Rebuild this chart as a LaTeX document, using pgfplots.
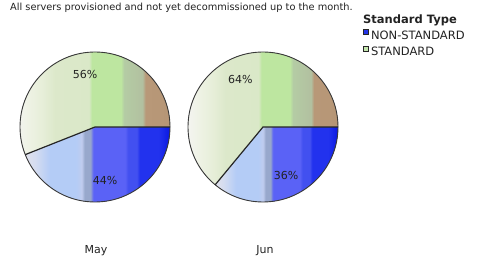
\documentclass[border=0pt]{standalone}
\usepackage{pgfplots}
\usepackage{pgfplotstable}
\pgfplotsset{compat=1.18}
\usepackage{fontspec}
\setmainfont{DejaVu Sans}
\definecolor{outl}{HTML}{3A3A3A}
\definecolor{nsblue}{HTML}{2434E8}
\definecolor{stgreen}{HTML}{C4E6AE}
\definecolor{txt}{HTML}{222222}
\pgfdeclarehorizontalshading{greenpie}{100bp}{%
 color(0bp)=(rgb,255:red,244;green,244;blue,240);
 color(25bp)=(rgb,255:red,244;green,244;blue,240);
 color(29bp)=(rgb,255:red,238;green,242;blue,228);
 color(33.5bp)=(rgb,255:red,230;green,238;blue,216);
 color(37.5bp)=(rgb,255:red,220;green,232;blue,202);
 color(48.5bp)=(rgb,255:red,218;green,232;blue,200);
 color(49.5bp)=(rgb,255:red,189;green,230;blue,160);
 color(59bp)=(rgb,255:red,189;green,230;blue,160);
 color(60bp)=(rgb,255:red,180;green,204;blue,164);
 color(66bp)=(rgb,255:red,178;green,192;blue,160);
 color(67bp)=(rgb,255:red,184;green,152;blue,120);
 color(75bp)=(rgb,255:red,182;green,150;blue,118);
 color(100bp)=(rgb,255:red,182;green,150;blue,118)}
\pgfdeclarehorizontalshading{bluepie}{100bp}{%
 color(0bp)=(rgb,255:red,226;green,226;blue,236);
 color(25bp)=(rgb,255:red,226;green,226;blue,236);
 color(28.5bp)=(rgb,255:red,212;green,220;blue,240);
 color(33.5bp)=(rgb,255:red,180;green,204;blue,246);
 color(42.5bp)=(rgb,255:red,180;green,204;blue,246);
 color(44.5bp)=(rgb,255:red,192;green,204;blue,238);
 color(45.5bp)=(rgb,255:red,152;green,168;blue,204);
 color(47.5bp)=(rgb,255:red,152;green,168;blue,204);
 color(48.5bp)=(rgb,255:red,90;green,98;blue,246);
 color(59.5bp)=(rgb,255:red,90;green,98;blue,246);
 color(60.5bp)=(rgb,255:red,66;green,80;blue,240);
 color(63.5bp)=(rgb,255:red,66;green,80;blue,240);
 color(64.5bp)=(rgb,255:red,34;green,50;blue,238);
 color(71bp)=(rgb,255:red,34;green,50;blue,238);
 color(75bp)=(rgb,255:red,10;green,24;blue,226);
 color(100bp)=(rgb,255:red,10;green,24;blue,226)}
\pgfplotstableread{
month nonstd std
May 44 56
Jun 36 64
}\piedata
\begin{document}
\begin{tikzpicture}
\pgfplotstablegetelem{0}{nonstd}\of\piedata\pgfmathsetmacro{\nsA}{-3.6*\pgfplotsretval}
\pgfplotstablegetelem{0}{std}\of\piedata\pgfmathsetmacro{\stA}{3.6*\pgfplotsretval}
\pgfplotstablegetelem{1}{nonstd}\of\piedata\pgfmathsetmacro{\nsB}{-3.6*\pgfplotsretval}
\pgfplotstablegetelem{1}{std}\of\piedata\pgfmathsetmacro{\stB}{3.6*\pgfplotsretval}
\pgfplotstablegetelem{0}{nonstd}\of\piedata\edef\pnsA{\pgfplotsretval}
\pgfplotstablegetelem{0}{std}\of\piedata\edef\pstA{\pgfplotsretval}
\pgfplotstablegetelem{1}{nonstd}\of\piedata\edef\pnsB{\pgfplotsretval}
\pgfplotstablegetelem{1}{std}\of\piedata\edef\pstB{\pgfplotsretval}
\begin{axis}[
  hide axis, scale only axis, width=496pt, height=257pt,
  xmin=0, xmax=496, ymin=0, ymax=257, clip=false,
  legend style={at={(axis cs:363,228)}, anchor=north west, draw=none, fill=none,
    font=\fontsize{11.5}{12}\selectfont, text=txt, inner sep=0pt, row sep=4pt,
    nodes={inner sep=0pt, text height=8.5pt, text depth=2.5pt},
    /tikz/column 2/.style={column sep=0pt}},
  legend cell align=left,
  legend image code/.code={\draw[#1] (0pt,1.5pt) rectangle (5pt,6.5pt);},
]
\path (axis cs:0,0) rectangle (axis cs:496,257);
\addlegendimage{draw=black!85, fill=nsblue, line width=0.8pt}
\addlegendentry{\hspace{2pt}NON-STANDARD}
\addlegendimage{draw=black!85, fill=stgreen, line width=0.8pt}
\addlegendentry{\hspace{2pt}STANDARD}
% May
\fill[shading=bluepie] (axis cs:95,130) -- ++(0:75pt) arc[start angle=0,end angle=\nsA,radius=75pt] -- cycle;
\fill[shading=greenpie] (axis cs:95,130) -- ++(0:75pt) arc[start angle=0,end angle=\stA,radius=75pt] -- cycle;
\draw[outl, line width=0.9pt] (axis cs:95,130) circle[radius=75pt];
\draw[black!85, line width=1.2pt] (axis cs:95,130) ++(\stA:75pt) -- (axis cs:95,130) -- ++(0:75pt);
% Jun
\fill[shading=bluepie] (axis cs:263,130) -- ++(0:75pt) arc[start angle=0,end angle=\nsB,radius=75pt] -- cycle;
\fill[shading=greenpie] (axis cs:263,130) -- ++(0:75pt) arc[start angle=0,end angle=\stB,radius=75pt] -- cycle;
\draw[outl, line width=0.9pt] (axis cs:263,130) circle[radius=75pt];
\draw[black!85, line width=1.2pt] (axis cs:263,130) ++(\stB:75pt) -- (axis cs:263,130) -- ++(0:75pt);
% labels
\begin{scope}[every node/.style={font=\fontsize{11}{12}\selectfont, text=txt}]
\node at (axis cs:95,130) [shift={(\nsA/2:54pt)}] {\pnsA\%};
\node at (axis cs:95,130) [shift={(\stA/2:53pt)}] {\pstA\%};
\node at (axis cs:263,130) [shift={(\nsB/2:54pt)}] {\pnsB\%};
\node at (axis cs:263,130) [shift={(\stB/2:53pt)}] {\pstB\%};
\node at (axis cs:96,6.5) {May};
\node at (axis cs:265,6.5) {Jun};
\end{scope}
\node[anchor=west, inner sep=0pt, font=\fontsize{9.8}{11}\selectfont, text=txt] at (axis cs:10,249) {All servers provisioned and not yet decommissioned up to the month.};
\node[anchor=west, inner sep=0pt, font=\fontsize{11.5}{12}\selectfont\bfseries, text=txt] at (axis cs:363,237) {Standard Type};
\end{axis}
\end{tikzpicture}
\end{document}
